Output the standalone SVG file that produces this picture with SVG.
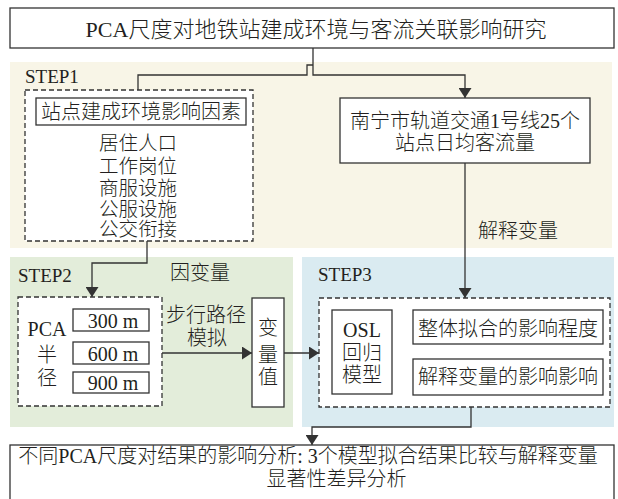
<svg xmlns="http://www.w3.org/2000/svg" width="618" height="499" viewBox="0 0 618 499">
  <defs>
    <marker id="arrow" viewBox="0 0 10 13" refX="10" refY="6.5" markerWidth="10" markerHeight="13" markerUnits="userSpaceOnUse" orient="auto">
      <path d="M0,0 L10,6.5 L0,13 Z" fill="#333"/>
    </marker>
    <style>
      text { font-family: "Liberation Serif", "Noto Sans CJK SC", serif; font-weight: 300; fill: #231f20; }
      .t22 { font-size: 22px; }
      .t20 { font-size: 20px; }
      .t19 { font-size: 19.5px; }
      .step { font-size: 19px; }
      .mid { text-anchor: middle; }
      .box { fill: #fff; stroke: #333; stroke-width: 1.3; }
      .dash { fill: #fff; stroke: #333; stroke-width: 1.3; stroke-dasharray: 5 3; }
      .link { fill: none; stroke: #333; stroke-width: 1.3; }
    </style>
  </defs>

  <rect width="618" height="499" fill="#fff"/>

  <!-- step backgrounds -->
  <rect x="10" y="62" width="602" height="186" fill="#f8f5e7"/>
  <rect x="10" y="257" width="283" height="170" fill="#e3edda"/>
  <rect x="302" y="257" width="312" height="170" fill="#daebf1"/>
  <text class="step" x="25" y="83">STEP1</text>
  <text class="step" x="18" y="282">STEP2</text>
  <text class="step" x="318" y="281">STEP3</text>

  <!-- connectors -->
  <g id="connectors">
    <path class="link" d="M313,48 V75 H465 V98" marker-end="url(#arrow)"/>
    <path class="link" d="M313,65 H307 V75 H138 V90"/>
    <path class="link" d="M465,163 V298" marker-end="url(#arrow)"/>
    <path class="link" d="M147,241 V263 H92 V297" marker-end="url(#arrow)"/>
    <path class="link" d="M162,353 H252" marker-end="url(#arrow)"/>
    <path class="link" d="M284,353 H319" marker-end="url(#arrow)"/>
    <path class="link" d="M392,352 H405 M405,327 V377 M405,327 H413 M405,377 H413"/>
    <path class="link" d="M471,407 V427 H312 V445" marker-end="url(#arrow)"/>
    <text class="t20 mid" x="518" y="237.5">解释变量</text>
    <text class="t20 mid" x="200" y="279.5">因变量</text>
    <text class="t20 mid" x="206" y="322">步行路径</text>
    <text class="t20 mid" x="207" y="344.5">模拟</text>
  </g>

  <!-- title -->
  <g id="title">
    <rect class="box" x="10" y="8" width="604" height="40"/>
    <text class="t22 mid" x="316" y="36.5">PCA尺度对地铁站建成环境与客流关联影响研究</text>
  </g>

  <!-- built-environment factors -->
  <g id="factors">
    <rect class="dash" x="25" y="90" width="228" height="151"/>
    <rect class="box" x="36" y="98" width="210" height="27"/>
    <text class="t20 mid" x="141" y="118.5">站点建成环境影响因素</text>
    <text class="t19 mid" x="138" y="149.5">居住人口</text>
    <text class="t19 mid" x="138" y="172.5">工作岗位</text>
    <text class="t19 mid" x="138" y="194.5">商服设施</text>
    <text class="t19 mid" x="138" y="215.5">公服设施</text>
    <text class="t19 mid" x="138" y="235.5">公交衔接</text>
  </g>

  <!-- passenger flow -->
  <g id="ridership">
    <rect class="box" x="340" y="98" width="250" height="65"/>
    <text class="t20 mid" x="465" y="127.5">南宁市轨道交通1号线25个</text>
    <text class="t20 mid" x="465" y="149.5">站点日均客流量</text>
  </g>

  <!-- PCA radius -->
  <g id="pca-radius">
    <rect class="dash" x="18" y="297" width="144" height="109"/>
    <text class="t20 mid" x="47" y="336">PCA</text>
    <text class="t20 mid" x="47" y="361.5">半</text>
    <text class="t20 mid" x="47" y="384.5">径</text>
    <rect class="box" x="73" y="309" width="76" height="22"/>
    <text class="t20 mid" x="113" y="328">300 m</text>
    <rect class="box" x="73" y="342" width="76" height="22"/>
    <text class="t20 mid" x="113" y="361">600 m</text>
    <rect class="box" x="73" y="372" width="76" height="21"/>
    <text class="t20 mid" x="113" y="390">900 m</text>
  </g>

  <!-- variable values -->
  <g id="variable-values">
    <rect class="box" x="252" y="298" width="32" height="109"/>
    <text class="t20 mid" x="268" y="334.5">变</text>
    <text class="t20 mid" x="268" y="361.5">量</text>
    <text class="t20 mid" x="268" y="383.5">值</text>
  </g>

  <!-- regression -->
  <g id="regression">
    <rect class="dash" x="319" y="298" width="291" height="109"/>
    <rect class="box" x="332" y="310" width="60" height="84"/>
    <text class="t20 mid" x="362" y="337">OSL</text>
    <text class="t20 mid" x="362" y="359.5">回归</text>
    <text class="t20 mid" x="362" y="382">模型</text>
  </g>

  <g id="overall-fit">
    <rect class="box" x="413" y="310" width="190" height="34"/>
    <text class="t20 mid" x="508" y="335.5">整体拟合的影响程度</text>
  </g>

  <g id="explanatory-effect">
    <rect class="box" x="413" y="359" width="190" height="36"/>
    <text class="t20 mid" x="508" y="384">解释变量的影响影响</text>
  </g>

  <!-- scale comparison -->
  <g id="scale-analysis">
    <rect class="box" x="10" y="445" width="604" height="70"/>
    <text class="t20 mid" x="308" y="462.5">不同PCA尺度对结果的影响分析: 3个模型拟合结果比较与解释变量</text>
    <text class="t20 mid" x="336.5" y="485.5">显著性差异分析</text>
  </g>
</svg>
